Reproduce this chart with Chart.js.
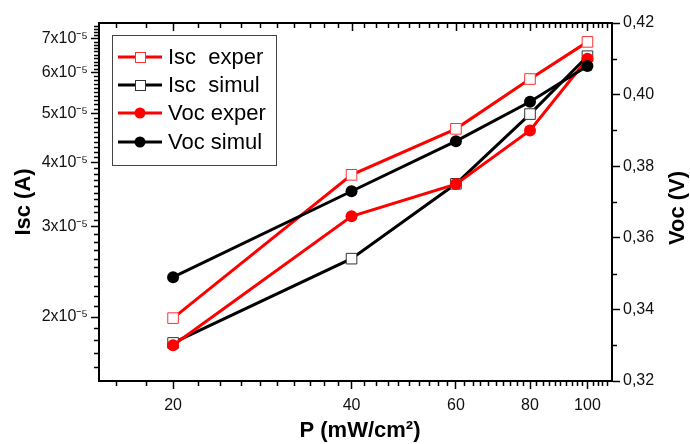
<!DOCTYPE html>
<html>
<head>
<meta charset="utf-8">
<script src="https://cdn.jsdelivr.net/npm/chart.js@4/dist/chart.umd.min.js"></script>
<style>
  html, body { margin: 0; padding: 0; background: #fff; }
  #wrap { width: 690px; height: 444px; }
</style>
</head>
<body>
<div id="wrap"><canvas id="grafico" width="690" height="444"></canvas></div>
<script>
// datos
const potencia = [20, 40, 60, 80, 100];           // P (mW/cm2)
const iscExper = [1.99e-5, 3.79e-5, 4.66e-5, 5.83e-5, 6.89e-5];
const iscSimul = [1.78e-5, 2.60e-5, 3.64e-5, 4.98e-5, 6.46e-5];
const vocExper = [0.330, 0.366, 0.375, 0.390, 0.410];
const vocSimul = [0.349, 0.373, 0.387, 0.398, 0.408];

const xTicks = [20, 40, 60, 80, 100];
const iscTicks = [2e-5, 3e-5, 4e-5, 5e-5, 6e-5, 7e-5];
const iscTickLabels = ["2x10⁻⁵", "3x10⁻⁵", "4x10⁻⁵", "5x10⁻⁵", "6x10⁻⁵", "7x10⁻⁵"];
const vocTicks = [0.32, 0.34, 0.36, 0.38, 0.40, 0.42];
const vocTickLabels = ["0,32", "0,34", "0,36", "0,38", "0,40", "0,42"];

const seriesLabels = ["Isc  exper", "Isc  simul", "Voc exper", "Voc simul"];

const FONT = "'Liberation Sans', Arial, sans-serif";
const RED = "#ff0000";
const BLACK = "#000000";

const pts = (ys) => potencia.map((x, i) => ({ x: x, y: ys[i] }));

// ticks menores y eje superior, leyenda y titulos
const extras = {
  id: "extras",
  afterDraw(chart) {
    const ctx = chart.ctx;
    const a = chart.chartArea;
    const sx = chart.scales.x, sy = chart.scales.y, sv = chart.scales.y2;
    ctx.save();
    ctx.strokeStyle = "#000";

    // borde superior
    ctx.beginPath();
    ctx.lineWidth = 2;
    ctx.moveTo(a.left - 1, a.top);
    ctx.lineTo(a.right + 1, a.top);
    ctx.stroke();
    ctx.lineWidth = 1.5;

    // eje x: menores cada 2, abajo hacia fuera y arriba hacia dentro
    ctx.beginPath();
    for (let v = 16; v <= 110; v += 2) {
      const px = Math.round(sx.getPixelForValue(v)) + 0.5;
      if (px < a.left + 2 || px > a.right - 2) continue;
      const major = xTicks.includes(v);
      if (!major) {
        ctx.moveTo(px, a.bottom);
        ctx.lineTo(px, a.bottom + 5);
      }
      ctx.moveTo(px, a.top);
      ctx.lineTo(px, a.top + (major ? 8 : 5));
    }
    ctx.stroke();

    // eje izquierdo: menores cada 1e-6
    ctx.beginPath();
    for (let k = 15; k <= 75; k++) {
      const v = k * 1e-6;
      if (k % 10 === 0) continue;
      const py = Math.round(sy.getPixelForValue(v)) + 0.5;
      if (py < a.top + 2 || py > a.bottom - 2) continue;
      ctx.moveTo(a.left, py);
      ctx.lineTo(a.left - 5, py);
    }
    ctx.stroke();

    // eje derecho: menores en los impares
    ctx.beginPath();
    [0.33, 0.35, 0.37, 0.39, 0.41].forEach(v => {
      const py = Math.round(sv.getPixelForValue(v)) + 0.5;
      ctx.moveTo(a.right, py);
      ctx.lineTo(a.right + 5, py);
    });
    ctx.stroke();

    // titulos de ejes
    ctx.fillStyle = "#000";
    ctx.font = "bold 22px " + FONT;
    ctx.textAlign = "center";
    ctx.textBaseline = "middle";
    ctx.fillText("P (mW/cm²)", 360, 431);
    ctx.save();
    ctx.translate(24, (a.top + a.bottom) / 2);
    ctx.rotate(-Math.PI / 2);
    ctx.fillText("Isc (A)", 0, 0);
    ctx.restore();
    ctx.save();
    ctx.translate(678, 208);
    ctx.rotate(-Math.PI / 2);
    ctx.fillText("Voc (V)", 0, 0);
    ctx.restore();

    // leyenda
    const box = { x: 112, y: 35, w: 164, h: 130 };
    ctx.fillStyle = "#fff";
    ctx.fillRect(box.x, box.y, box.w, box.h);
    ctx.strokeStyle = "#444";
    ctx.lineWidth = 1;
    ctx.strokeRect(box.x + 0.5, box.y + 0.5, box.w, box.h);
    const rows = [57, 85, 113, 142];
    ctx.font = "22px " + FONT;
    ctx.textAlign = "left";
    chart.data.datasets.forEach((ds, i) => {
      const y = rows[i];
      ctx.strokeStyle = ds.borderColor;
      ctx.lineWidth = 3;
      ctx.beginPath();
      ctx.moveTo(118, y);
      ctx.lineTo(162, y);
      ctx.stroke();
      if (ds.pointStyle === "rect") {
        ctx.fillStyle = "#fff";
        ctx.fillRect(135, y - 5, 10, 10);
        ctx.strokeStyle = ds.pointBorderColor;
        ctx.lineWidth = 1;
        ctx.strokeRect(135.5, y - 4.5, 10, 10);
      } else {
        ctx.fillStyle = ds.pointBackgroundColor;
        ctx.beginPath();
        ctx.arc(140, y, 5.5, 0, Math.PI * 2);
        ctx.fill();
      }
      ctx.fillStyle = "#000";
      ctx.fillText(ds.label, 168, y + 1);
    });
    ctx.restore();
  }
};

const canvas = document.getElementById("grafico");
new Chart(canvas.getContext("2d"), {
  type: "line",
  data: {
    datasets: [
      {
        label: seriesLabels[0], data: pts(iscExper), yAxisID: "y", order: 4,
        borderColor: RED, borderWidth: 3,
        pointStyle: "rect", pointRadius: 7.5, pointBorderWidth: 1,
        pointBackgroundColor: "#fff", pointBorderColor: "#ff3030"
      },
      {
        label: seriesLabels[1], data: pts(iscSimul), yAxisID: "y", order: 3,
        borderColor: BLACK, borderWidth: 3,
        pointStyle: "rect", pointRadius: 7.5, pointBorderWidth: 1,
        pointBackgroundColor: "#fff", pointBorderColor: "#333"
      },
      {
        label: seriesLabels[2], data: pts(vocExper), yAxisID: "y2", order: 2,
        borderColor: RED, borderWidth: 3,
        pointStyle: "circle", pointRadius: 6, pointBorderWidth: 0,
        pointBackgroundColor: RED, pointBorderColor: RED
      },
      {
        label: seriesLabels[3], data: pts(vocSimul), yAxisID: "y2", order: 1,
        borderColor: BLACK, borderWidth: 3,
        pointStyle: "circle", pointRadius: 6, pointBorderWidth: 0,
        pointBackgroundColor: BLACK, pointBorderColor: BLACK
      }
    ]
  },
  options: {
    responsive: false,
    animation: false,
    layout: { padding: { top: 23, left: 0, right: 0, bottom: 0 } },
    plugins: { legend: { display: false }, tooltip: { enabled: false } },
    scales: {
      x: {
        type: "logarithmic", position: "bottom", min: 15, max: 110,
        afterBuildTicks: s => { s.ticks = xTicks.map(v => ({ value: v })); },
        afterFit: s => { s.height = 63; },
        ticks: {
          autoSkip: false, maxRotation: 0, padding: 7, color: "#111",
          font: { family: FONT, size: 16 },
          callback: v => String(v)
        },
        grid: { drawOnChartArea: false, drawTicks: true, tickLength: 8, tickWidth: 1.5, tickColor: "#000" },
        border: { display: true, color: "#000", width: 2 }
      },
      y: {
        type: "logarithmic", position: "left", min: 1.5e-5, max: 7.5e-5,
        afterBuildTicks: s => { s.ticks = iscTicks.map(v => ({ value: v })); },
        afterFit: s => { s.width = 99; },
        ticks: {
          autoSkip: false, padding: 3, color: "#111",
          font: { family: FONT, size: 16 },
          callback: v => {
            const i = iscTicks.findIndex(t => Math.abs(t - v) < 1e-9);
            return i >= 0 ? iscTickLabels[i] : "";
          }
        },
        grid: { drawOnChartArea: false, drawTicks: true, tickLength: 8, tickWidth: 1.5, tickColor: "#000" },
        border: { display: true, color: "#000", width: 2 }
      },
      y2: {
        type: "linear", position: "right", min: 0.32, max: 0.42,
        afterBuildTicks: s => { s.ticks = vocTicks.map(v => ({ value: v })); },
        afterFit: s => { s.width = 78; },
        ticks: {
          autoSkip: false, padding: 3, color: "#111",
          font: { family: FONT, size: 16 },
          callback: v => {
            const i = vocTicks.findIndex(t => Math.abs(t - v) < 1e-6);
            return i >= 0 ? vocTickLabels[i] : "";
          }
        },
        grid: { drawOnChartArea: false, drawTicks: true, tickLength: 8, tickWidth: 1.5, tickColor: "#000" },
        border: { display: true, color: "#000", width: 2 }
      }
    }
  },
  plugins: [extras]
});
</script>
</body>
</html>
